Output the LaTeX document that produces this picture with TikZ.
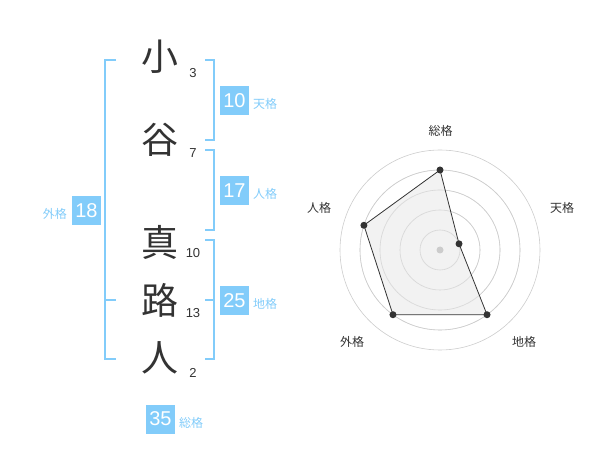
\documentclass[tikz,border=0pt]{standalone}
\usepackage{fontspec}
\setmainfont{Liberation Sans}
\newfontfamily\cjk{Noto Sans CJK JP}
\definecolor{lblue}{HTML}{82CCFA}
\definecolor{dgray}{HTML}{333333}
\definecolor{rgray}{HTML}{CCCCCC}
\definecolor{pfill}{HTML}{F0F0F0}
\begin{document}
\begin{tikzpicture}[x=1pt,y=-1pt,
  kanji/.style={inner sep=0pt,font=\cjk\fontsize{37}{37}\selectfont,text=dgray},
  stroke/.style={inner sep=0pt,font=\fontsize{13}{13}\selectfont,text=dgray},
  valbox/.style={fill=lblue,text=white,minimum width=29pt,minimum height=29pt,inner sep=0pt,font=\fontsize{20}{20}\selectfont},
  kaku/.style={inner sep=0pt,font=\cjk\fontsize{12}{12}\selectfont,text=lblue},
  brk/.style={draw=lblue,line width=2pt},
  ring/.style={draw=rgray,line width=0.6pt},
  rlab/.style={inner sep=0pt,font=\cjk\fontsize{12}{12}\selectfont,text=dgray},
  dot/.style={circle,fill=dgray,inner sep=0pt,minimum size=7pt}
]
\useasboundingbox (0,0) rectangle (600,470);
% kanji
\node[kanji] (k1) at (160,57) {小};
\node[kanji] (k2) at (160,140) {谷};
\node[kanji] (k3) at (160,242) {真};
\node[kanji] (k4) at (160,300) {路};
\node[kanji] (k5) at (160,358) {人};
\node[stroke] (s1) at (193,73) {3};
\node[stroke] (s2) at (193,153) {7};
\node[stroke] (s3) at (193,253) {10};
\node[stroke] (s4) at (193,313) {13};
\node[stroke] (s5) at (193,373) {2};
% brackets
\draw[brk] (205,60) -- (214,60) -- (214,140) -- (205,140);
\draw[brk] (205,150) -- (214,150) -- (214,230) -- (205,230);
\draw[brk] (205,240) -- (214,240) -- (214,359) -- (205,359);
\draw[brk] (205,300) -- (214,300);
\draw[brk] (116,60) -- (105,60) -- (105,359) -- (116,359);
\draw[brk] (105,300) -- (116,300);
% value boxes
\node[valbox] (v1) at (234.5,100.5) {10};
\node[kaku,anchor=west] (l1) at (253,104) {天格};
\node[valbox] (v2) at (234.5,190.5) {17};
\node[kaku,anchor=west] (l2) at (253,194) {人格};
\node[valbox] (v3) at (234.5,300.5) {25};
\node[kaku,anchor=west] (l3) at (253,304) {地格};
\node[valbox] (v4) at (86.5,210.5) {18};
\node[kaku,anchor=east] (l4) at (67,214) {外格};
\node[valbox] (v5) at (160.5,419) {35};
\node[kaku,anchor=west] (l5) at (179,423) {総格};
% radar
\coordinate (c) at (440,250);
\foreach \r in {20,40,60,80,100} \draw[ring] (c) circle (\r pt);
\path (c) ++(-90:80) coordinate (p1);
\path (c) ++(-18:20) coordinate (p2);
\path (c) ++(54:80) coordinate (p3);
\path (c) ++(126:80) coordinate (p4);
\path (c) ++(198:80) coordinate (p5);
\fill[pfill,opacity=0.85] (p1) -- (p2) -- (p3) -- (p4) -- (p5) -- cycle;
\foreach \r in {20,40,60,80} \draw[ring,opacity=0.6] (c) circle (\r pt);
\fill[rgray] (c) circle (3.5pt);
\draw[dgray,line width=0.8pt] (p1) -- (p2) -- (p3) -- (p4) -- (p5) -- cycle;
\foreach \p in {p1,p2,p3,p4,p5} \node[dot] at (\p) {};
\node[rlab] (r1) at (440.7,130.5) {総格};
\node[rlab] (r2) at (562,208) {天格};
\node[rlab] (r3) at (524,342) {地格};
\node[rlab] (r4) at (352,342) {外格};
\node[rlab] (r5) at (319,208) {人格};
\end{tikzpicture}
\end{document}
